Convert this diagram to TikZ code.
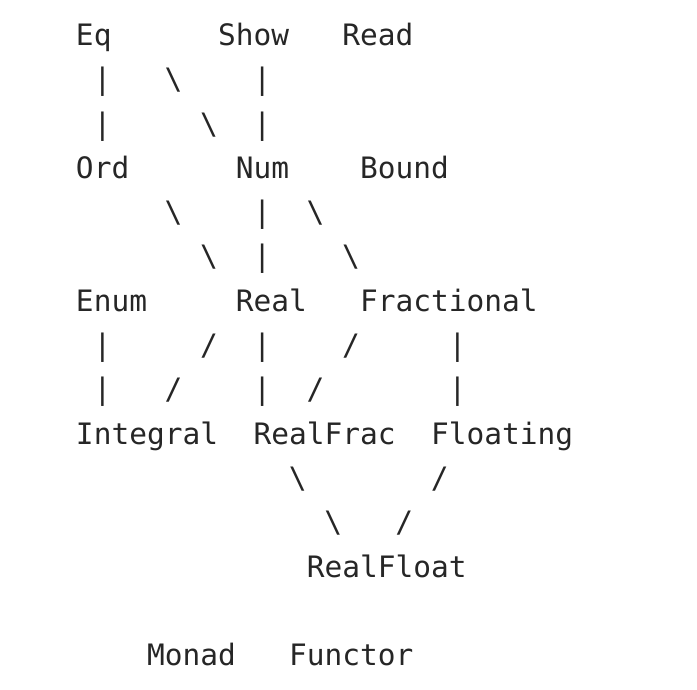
\documentclass[tikz,border=0pt]{standalone}
\usepackage{fontspec}
\setmonofont{DejaVu Sans Mono}
\usepackage{tikz}

\newcommand\vbar{|}
\newcommand\fsl{/}
\newcommand\bsl{\textbackslash}

\begin{document}
\begin{tikzpicture}[x=17.75pt, y=-44.3pt,
    cls/.style={anchor=base west, inner sep=0pt, outer sep=0pt,
      font=\ttfamily\fontsize{29.5}{35}\selectfont, text=black!85},
    glyph/.style={anchor=base, inner sep=0pt, outer sep=0pt,
      font=\ttfamily\fontsize{29.5}{35}\selectfont, text=black!85}]

  \useasboundingbox (-76pt,45.5pt) rectangle (621pt,-644.5pt);

  % classes, one row of text every third line
  \node[cls] (eq) at (0,0) {Eq};
  \node[cls] (show) at (8,0) {Show};
  \node[cls] (read) at (15,0) {Read};

  \node[cls] (ord) at (0,3) {Ord};
  \node[cls] (num) at (9,3) {Num};
  \node[cls] (bound) at (16,3) {Bound};

  \node[cls] (enum) at (0,6) {Enum};
  \node[cls] (real) at (9,6) {Real};
  \node[cls] (fractional) at (16,6) {Fractional};

  \node[cls] (integral) at (0,9) {Integral};
  \node[cls] (realfrac) at (10,9) {RealFrac};
  \node[cls] (floating) at (20,9) {Floating};

  \node[cls] (realfloat) at (13,12) {RealFloat};

  \node[cls] (monad) at (4,14) {Monad};
  \node[cls] (functor) at (12,14) {Functor};

  % links, two characters each
  \foreach \from/\fx/\to/\tx/\g in {
      eq/1.5/ord/1.5/\vbar, eq/3.5/num/0.5/\bsl, show/2.5/num/1.5/\vbar,
      ord/3.5/real/0.5/\bsl, num/1.5/real/1.5/\vbar, num/2.5/fractional/1.5/\bsl,
      enum/1.5/integral/1.5/\vbar, real/0.5/integral/3.5/\fsl,
      real/1.5/realfrac/0.5/\vbar, fractional/1.5/realfrac/1.5/\fsl,
      fractional/5.5/floating/1.5/\vbar,
      realfrac/0.5/realfloat/3.5/\bsl, floating/2.5/realfloat/3.5/\fsl}{
    \path ([shift={(\fx,0)}]\from.base west)
      -- node[glyph, pos=1/3] {\g} node[glyph, pos=2/3] {\g}
      ([shift={(\tx,0)}]\to.base west);
  }
\end{tikzpicture}
\end{document}
